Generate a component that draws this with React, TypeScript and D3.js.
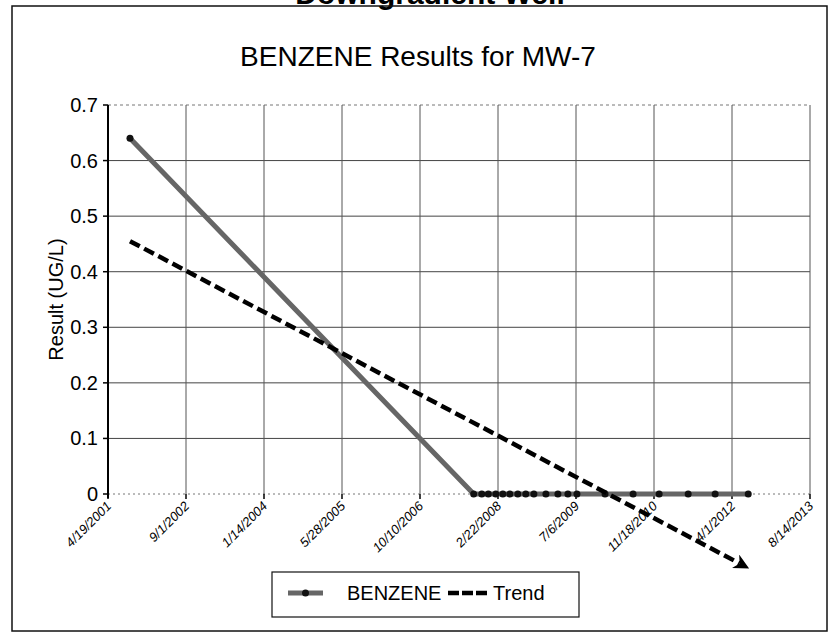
import React, { useEffect, useRef } from 'react';
import * as d3 from 'd3';

// x axis tick dates (Excel date axis, 501 day steps)
const tickDates = [
  '4/19/2001', '9/1/2002', '1/14/2004', '5/28/2005', '10/10/2006',
  '2/22/2008', '7/6/2009', '11/18/2010', '4/1/2012', '8/14/2013',
];
const yTicks = [0, 0.1, 0.2, 0.3, 0.4, 0.5, 0.6, 0.7];

// sampling dates and benzene results (ug/L)
const sampleDates = [
  '9/7/2001', '9/19/2007', '11/10/2007', '12/22/2007', '2/8/2008', '3/24/2008',
  '5/8/2008', '6/28/2008', '8/18/2008', '10/9/2008', '12/25/2008', '3/12/2009',
  '5/15/2009', '7/12/2009', '1/8/2010', '7/7/2010', '12/21/2010', '6/25/2011',
  '12/15/2011', '7/14/2012',
];
const benzeneValues = [
  0.64, 0, 0, 0, 0, 0,
  0, 0, 0, 0, 0, 0,
  0, 0, 0, 0, 0, 0,
  0, 0,
];

// linear trend (start / end of the arrow)
const trendDates = ['9/7/2001', '5/20/2012'];
const trendValues = [0.455, -0.125];

const FONT = "'Liberation Sans', Arial, sans-serif";

const App: React.FC = () => {
  const svgRef = useRef<SVGSVGElement>(null);

  useEffect(() => {
    if (!svgRef.current) return;
    const svg = d3.select(svgRef.current);
    svg.selectAll('*').remove();

    const parse = d3.timeParse('%m/%d/%Y');
    const left = 108, right = 810, top = 105, bottom = 494;

    const x = d3.scaleTime()
      .domain([parse(tickDates[0])!, parse(tickDates[tickDates.length - 1])!])
      .range([left, right]);
    const y = d3.scaleLinear().domain([0, 0.7]).range([bottom, top]);

    svg.append('rect').attr('width', 830).attr('height', 639).attr('fill', '#fff');

    // page heading, cut off at the top edge as in the scan
    svg.append('text')
      .attr('x', 430).attr('y', 4)
      .attr('text-anchor', 'middle')
      .attr('font-family', FONT).attr('font-weight', 'bold').attr('font-size', 30)
      .text('Downgradient Well');

    // outer frame
    svg.append('rect')
      .attr('x', 12).attr('y', 6).attr('width', 815).attr('height', 625)
      .attr('fill', 'none').attr('stroke', '#111').attr('stroke-width', 1.5);

    // title
    svg.append('text')
      .attr('x', 418).attr('y', 66)
      .attr('text-anchor', 'middle')
      .attr('font-family', FONT).attr('font-size', 28)
      .text('BENZENE Results for MW-7');

    // horizontal gridlines
    svg.selectAll('.hgrid')
      .data(yTicks.filter(d => d > 0))
      .enter()
      .append('line')
      .attr('x1', left).attr('x2', right)
      .attr('y1', d => y(d)).attr('y2', d => y(d))
      .attr('stroke', d => (d === 0.7 ? '#777' : '#444'))
      .attr('stroke-dasharray', d => (d === 0.7 ? '3 3' : null))
      .attr('stroke-width', 1);

    // zero line (dotted)
    svg.append('line')
      .attr('x1', left).attr('x2', right)
      .attr('y1', y(0)).attr('y2', y(0))
      .attr('stroke', '#777').attr('stroke-dasharray', '2 3');

    // vertical gridlines
    svg.selectAll('.vgrid')
      .data(tickDates.slice(1))
      .enter()
      .append('line')
      .attr('x1', d => x(parse(d)!)).attr('x2', d => x(parse(d)!))
      .attr('y1', top).attr('y2', bottom)
      .attr('stroke', '#555').attr('stroke-width', 1);

    // y axis
    svg.append('line')
      .attr('x1', left).attr('x2', left).attr('y1', top).attr('y2', bottom + 4)
      .attr('stroke', '#000').attr('stroke-width', 2);
    svg.selectAll('.ytick')
      .data(yTicks)
      .enter()
      .append('line')
      .attr('x1', left - 5).attr('x2', left)
      .attr('y1', d => y(d)).attr('y2', d => y(d))
      .attr('stroke', '#000').attr('stroke-width', 1.5);
    svg.selectAll('.ylab')
      .data(yTicks)
      .enter()
      .append('text')
      .attr('x', left - 10)
      .attr('y', d => y(d))
      .attr('dy', '0.35em')
      .attr('text-anchor', 'end')
      .attr('font-family', FONT).attr('font-size', 20)
      .text(d => (d === 0 ? '0' : d3.format('.1f')(d)));

    svg.append('text')
      .attr('transform', `translate(56,${(top + bottom) / 2}) rotate(-90)`)
      .attr('text-anchor', 'middle')
      .attr('dy', '0.35em')
      .attr('font-family', FONT).attr('font-size', 20)
      .text('Result (UG/L)');

    // x ticks and rotated labels
    svg.selectAll('.xtick')
      .data(tickDates)
      .enter()
      .append('line')
      .attr('x1', d => x(parse(d)!)).attr('x2', d => x(parse(d)!))
      .attr('y1', bottom).attr('y2', bottom + 5)
      .attr('stroke', '#000').attr('stroke-width', 1.5);
    const fmt = d3.timeFormat('%-m/%-d/%Y');
    svg.selectAll('.xlab')
      .data(tickDates)
      .enter()
      .append('text')
      .attr('transform', d => `translate(${x(parse(d)!) + 4},${bottom + 13}) rotate(-45)`)
      .attr('text-anchor', 'end')
      .attr('font-family', FONT).attr('font-size', 13).attr('font-style', 'italic')
      .text(d => fmt(parse(d)!));

    // benzene series
    const pts = sampleDates.map((d, i) => ({ date: parse(d)!, value: benzeneValues[i] }));
    const line = d3.line<{ date: Date; value: number }>()
      .x(d => x(d.date))
      .y(d => y(d.value));
    svg.append('path')
      .datum(pts)
      .attr('d', line)
      .attr('fill', 'none')
      .attr('stroke', '#666')
      .attr('stroke-width', 5);
    svg.selectAll('.pt')
      .data(pts)
      .enter()
      .append('circle')
      .attr('cx', d => x(d.date)).attr('cy', d => y(d.value))
      .attr('r', 3.5)
      .attr('fill', '#111');

    // trend with arrow
    const defs = svg.append('defs');
    defs.append('marker')
      .attr('id', 'arrow')
      .attr('viewBox', '0 0 10 10')
      .attr('refX', 3).attr('refY', 5)
      .attr('markerWidth', 3.4).attr('markerHeight', 3.4)
      .attr('markerUnits', 'strokeWidth')
      .attr('orient', 'auto')
      .append('path')
      .attr('d', 'M0,0 L10,5 L0,10 L3,5 z')
      .attr('fill', '#000');
    const trendPts = trendDates.map((d, i) => ({ date: parse(d)!, value: trendValues[i] }));
    svg.append('path')
      .datum(trendPts)
      .attr('d', line)
      .attr('fill', 'none')
      .attr('stroke', '#000')
      .attr('stroke-width', 4.5)
      .attr('stroke-dasharray', '11 5')
      .attr('marker-end', 'url(#arrow)');

    // legend
    const lg = svg.append('g');
    lg.append('rect')
      .attr('x', 272).attr('y', 572).attr('width', 307).attr('height', 45)
      .attr('fill', '#fff').attr('stroke', '#111').attr('stroke-width', 1.2);
    lg.append('line')
      .attr('x1', 288).attr('x2', 323).attr('y1', 593).attr('y2', 593)
      .attr('stroke', '#666').attr('stroke-width', 5);
    lg.append('circle').attr('cx', 305.5).attr('cy', 593).attr('r', 3.5).attr('fill', '#111');
    lg.append('text')
      .attr('x', 347).attr('y', 600)
      .attr('font-family', FONT).attr('font-size', 20)
      .text('BENZENE');
    lg.append('line')
      .attr('x1', 448).attr('x2', 487).attr('y1', 593).attr('y2', 593)
      .attr('stroke', '#000').attr('stroke-width', 4.5).attr('stroke-dasharray', '11 3');
    lg.append('text')
      .attr('x', 493).attr('y', 600)
      .attr('font-family', FONT).attr('font-size', 20)
      .text('Trend');
  }, []);

  return (
    <div style={{ position: 'absolute', left: 0, top: 0 }}>
      <svg ref={svgRef} width={830} height={639} style={{ display: 'block' }} />
    </div>
  );
};

export default App;
